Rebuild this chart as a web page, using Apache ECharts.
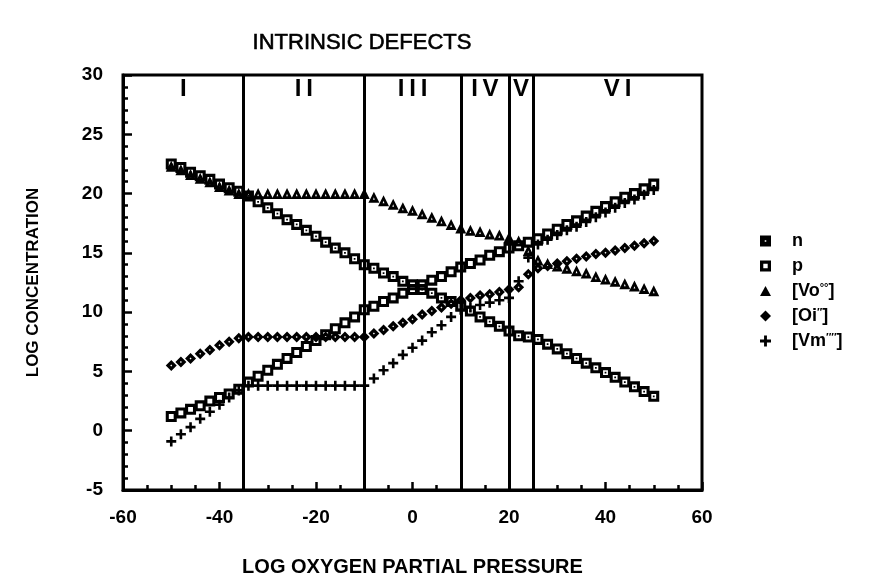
<!DOCTYPE html>
<html>
<head>
<meta charset="utf-8">
<script src="https://cdn.jsdelivr.net/npm/echarts@6/dist/echarts.min.js"></script>
<style>
  html, body { margin: 0; padding: 0; background: #fff; }
  #chart { width: 882px; height: 582px; }
</style>
</head>
<body>
<div id="chart"></div>
<script>
// Log oxygen partial pressure sampled every 2 decades
const pO2 = [-50,-48,-46,-44,-42,-40,-38,-36,-34,-32,-30,-28,-26,-24,-22,-20,-18,-16,-14,-12,-10,
  -8,-6,-4,-2,0,2,4,6,8,10,12,14,16,18,20,22,24,26,28,30,32,34,36,38,40,42,44,46,48,50];

// Log concentrations of each defect species
const nConc = [22.5,22.2,21.8,21.5,21.2,20.8,20.5,20.2,
  19.8,19.3,18.8,18.3,17.8,17.4,16.9,16.4,15.9,15.4,15.0,14.5,14.0,
  13.7,13.3,13.0,12.6,12.3,11.9,11.6,11.2,10.9,10.5,
  10.1,9.6,9.2,8.8,8.4,
  8.0,7.9,
  7.7,7.3,6.9,6.5,6.1,5.7,5.3,4.9,4.5,4.1,3.7,3.3,2.9];
const pConc = [1.2,1.5,1.8,2.1,2.5,2.8,3.1,3.5,
  4.1,4.6,5.1,5.6,6.1,6.6,7.1,7.6,8.1,8.6,9.1,9.6,10.2,
  10.5,10.9,11.2,11.6,11.9,12.3,12.7,13.0,13.4,13.8,
  14.1,14.4,14.8,15.1,15.4,
  15.6,15.9,
  16.2,16.6,17.0,17.4,17.7,18.1,18.5,18.9,19.3,19.7,20.0,20.4,20.8];
const voConc = [22.3,22.0,21.6,21.3,21.0,20.6,20.3,20.0,
  20,20,20,20,20,20,20,20,20,20,20,20,20,
  19.7,19.4,19.1,18.8,18.6,18.3,18.0,17.7,17.4,17.1,
  16.9,16.8,16.6,16.5,16.3,
  16.0,15.2,
  14.4,14.1,13.9,13.7,13.5,13.3,13.0,12.8,12.6,12.4,12.2,12.0,11.8];
const oiConc = [5.5,5.8,6.1,6.5,6.8,7.2,7.5,7.8,
  7.9,7.9,7.9,7.9,7.9,7.9,7.9,7.9,7.9,7.9,7.9,7.9,7.9,
  8.2,8.5,8.8,9.1,9.4,9.8,10.1,10.4,10.7,11.0,
  11.2,11.4,11.5,11.7,11.9,
  12.1,13.2,
  13.7,13.9,14.1,14.3,14.5,14.7,14.9,15.0,15.2,15.4,15.6,15.8,16.0];
const vmConc = [-0.9,-0.3,0.3,1.0,1.6,2.2,2.8,3.4,
  3.8,3.8,3.8,3.8,3.8,3.8,3.8,3.8,3.8,3.8,3.8,3.8,3.8,
  4.4,5.1,5.7,6.4,7.0,7.6,8.3,8.9,9.6,10.2,
  10.4,10.6,10.8,11.0,11.2,
  12.6,14.6,
  15.7,16.1,16.5,16.9,17.2,17.6,18.0,18.4,18.8,19.2,19.5,19.9,20.3];

// Regime boundaries and names
const regionEdges = [-60, -35, -10, 10, 20, 25, 60];
const regionNames = ['I', 'II', 'III', 'IV', 'V', 'VI'];

// Series names (legend order) and their superscript-formatted labels
const speciesNames = ['n', 'p', '[Vo°°]', '[Oi″]', '[Vm′′′′]'];
const speciesLabels = ['n', 'p', '[Vo{s|°°}]', '[Oi{s|″}]', '[Vm{s|′′′′}]'];

const FONT = 'Liberation Sans, Arial, sans-serif';

// Plot markers: heavy outlined squares, triangle, diamond and plus
const SYM = {
  n: 'path://M0,0L10,0L10,10L0,10Z M2.8,2.8L2.8,7.2L7.2,7.2L7.2,2.8Z M4.2,4.2L5.8,4.2L5.8,5.8L4.2,5.8Z',
  p: 'path://M0,0L10,0L10,10L0,10Z M2.8,2.8L2.8,7.2L7.2,7.2L7.2,2.8Z',
  vo: 'path://M5,0L10,9L0,9Z M5,4.6L4.2,6.6L5.8,6.6Z',
  oi: 'path://M5,0L10,5L5,10L0,5Z M5,4.1L4.1,5L5,5.9L5.9,5Z',
  vm: 'path://M3.7,0L6.3,0L6.3,3.7L10,3.7L10,6.3L6.3,6.3L6.3,10L3.7,10L3.7,6.3L0,6.3L0,3.7L3.7,3.7Z'
};
// Legend keys: mostly solid glyphs
const KEY = {
  n: 'path://M0,0L10,0L10,10L0,10Z M4.3,4.3L4.3,5.7L5.7,5.7L5.7,4.3Z',
  p: 'path://M0,0L10,0L10,10L0,10Z M3,3L3,7L7,7L7,3Z',
  vo: 'path://M5,0L10,9L0,9Z',
  oi: 'path://M5,0L10,5L5,10L0,5Z',
  vm: SYM.vm
};

function pairs(ys) { return pO2.map((x, i) => [x, ys[i]]); }

function scatter(name, ys, symbol, size, z) {
  return {
    name: name, type: 'scatter', data: pairs(ys),
    symbol: symbol, symbolSize: size, z: z,
    itemStyle: { color: '#000', opacity: 1 },
    emphasis: { disabled: true },
    silent: true
  };
}

const chart = echarts.init(document.getElementById('chart'), null, { renderer: 'canvas' });

const boundarySeries = {
  name: 'regions', type: 'scatter', data: [], silent: true, z: 1,
  markLine: {
    silent: true, symbol: ['none', 'none'], animation: false,
    label: { show: false },
    lineStyle: { color: '#000', width: 3, type: 'solid' },
    data: regionEdges.slice(1, -1).map(x => ({ xAxis: x }))
  },
  markArea: {
    silent: true, animation: false,
    itemStyle: { color: 'rgba(0,0,0,0)' },
    label: {
      show: true, position: 'insideTop', distance: 2,
      color: '#000', fontFamily: FONT, fontSize: 24, fontWeight: 'bold',
      formatter: p => p.name.split('').join('\u2009')
    },
    data: regionNames.map((nm, i) => [{ name: nm, xAxis: regionEdges[i] }, { xAxis: regionEdges[i + 1] }])
  }
};

chart.setOption({
  animation: false,
  backgroundColor: '#fff',
  title: {
    text: 'INTRINSIC DEFECTS',
    left: 357, top: 27, textAlign: 'center',
    textStyle: { fontFamily: FONT, fontSize: 22, fontWeight: 'normal', color: '#000',
      textBorderColor: '#000', textBorderWidth: 0.6 }
  },
  grid: {
    left: 123, right: 180, top: 75, bottom: 92,
    show: true, borderColor: '#000', borderWidth: 3, backgroundColor: 'transparent'
  },
  legend: {
    orient: 'vertical', left: 755, top: 226,
    itemWidth: 11, itemHeight: 11, itemGap: 5,
    data: speciesNames.map((nm, i) => ({ name: nm, icon: [KEY.n, KEY.p, KEY.vo, KEY.oi, KEY.vm][i] })),
    formatter: nm => speciesLabels[speciesNames.indexOf(nm)],
    itemStyle: { color: '#000' },
    textStyle: {
      fontFamily: FONT, fontSize: 18, fontWeight: 'bold', color: '#000',
      lineHeight: 20, padding: [0, 0, 0, 16],
      rich: { s: { fontFamily: FONT, fontSize: 11, fontWeight: 'bold', color: '#000', padding: [0, 0, 7, 0] } }
    },
    selectedMode: false
  },
  xAxis: {
    type: 'value', min: -60, max: 60, interval: 20,
    name: 'LOG OXYGEN PARTIAL PRESSURE', nameLocation: 'middle', nameGap: 67,
    nameTextStyle: { fontFamily: FONT, fontSize: 20, fontWeight: 'bold', color: '#000' },
    axisLine: { show: true, onZero: false, lineStyle: { color: '#000', width: 3 } },
    axisTick: { show: true, inside: true, length: 8, lineStyle: { color: '#000', width: 2.5 } },
    minorTick: { show: true, splitNumber: 4, length: 5, lineStyle: { color: '#000', width: 2.5 } },
    axisLabel: { margin: 18, fontFamily: FONT, fontSize: 19, fontWeight: 'bold', color: '#000' },
    splitLine: { show: false }
  },
  yAxis: {
    type: 'value', min: -5, max: 30, interval: 5,
    name: 'LOG CONCENTRATION', nameLocation: 'middle', nameGap: 81,
    nameTextStyle: { fontFamily: FONT, fontSize: 17, fontWeight: 'bold', color: '#000' },
    axisLine: { show: true, onZero: false, lineStyle: { color: '#000', width: 3 } },
    axisTick: { show: true, inside: true, length: 9, lineStyle: { color: '#000', width: 2.5 } },
    minorTick: { show: true, splitNumber: 5, length: 5, lineStyle: { color: '#000', width: 2.5 } },
    axisLabel: { margin: 20, fontFamily: FONT, fontSize: 19, fontWeight: 'bold', color: '#000' },
    splitLine: { show: false }
  },
  series: [
    boundarySeries,
    scatter(speciesNames[2], voConc, SYM.vo, 11, 3),
    scatter(speciesNames[3], oiConc, SYM.oi, 11, 3),
    scatter(speciesNames[4], vmConc, SYM.vm, 10, 3),
    scatter(speciesNames[1], pConc, SYM.p, 11, 4),
    scatter(speciesNames[0], nConc, SYM.n, 11, 5)
  ]
});
</script>
</body>
</html>
